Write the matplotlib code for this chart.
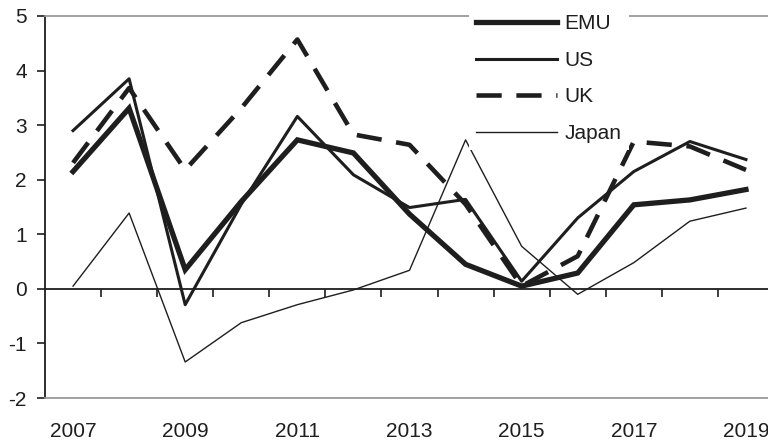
import matplotlib
matplotlib.use('Agg')
import matplotlib.pyplot as plt
import numpy as np

plt.rcParams['font.family'] = ['Liberation Sans', 'DejaVu Sans']

years = list(range(2007, 2020))
emu = [2.15, 3.31, 0.35, 1.6, 2.73, 2.49, 1.37, 0.45, 0.05, 0.29, 1.54, 1.63, 1.82]
us = [2.9, 3.85, -0.29, 1.55, 3.16, 2.09, 1.49, 1.64, 0.14, 1.3, 2.15, 2.7, 2.37]
uk = [2.31, 3.68, 2.18, 3.31, 4.57, 2.83, 2.64, 1.55, 0.05, 0.6, 2.7, 2.61, 2.18]
japan = [0.05, 1.39, -1.34, -0.62, -0.29, -0.02, 0.34, 2.73, 0.78, -0.1, 0.48, 1.24, 1.48]
year_labels = [str(y) for y in years[::2]]

ink = '#1e1e1e'
grey = '#9a9a9a'

fig = plt.figure(figsize=(7.68, 4.43), dpi=100)
ax = fig.add_axes([45 / 768, 45 / 443, 729 / 768, 382 / 443])

x = np.arange(len(years))
ax.plot(x, emu, color=ink, lw=3.8, label='EMU', solid_joinstyle='miter')
ax.plot(x, us, color=ink, lw=2.2, label='US')
ax.plot(x, uk, color=ink, lw=3.3, ls=(0, (5.5, 3.2)), label='UK')
ax.plot(x, japan, color=ink, lw=1.0, label='Japan')

ax.set_xlim(-0.5, len(years) - 0.5)
ax.set_ylim(-2, 5)
ax.set_yticks(range(-2, 6))
ax.set_yticklabels([str(v) for v in range(-2, 6)])

# labels sit below the -2 line, ticks live on the zero line
ax.set_xticks(x[::2])
ax.set_xticklabels(year_labels)
ax.tick_params(axis='x', length=0, pad=17, labelsize=15, colors=ink)
ax.tick_params(axis='y', length=6, width=1.2, pad=7, labelsize=15, colors=ink, direction='out')

for s in ['top', 'bottom']:
    ax.spines[s].set_color(grey)
    ax.spines[s].set_linewidth(1.3)
ax.spines['right'].set_visible(False)
ax.spines['left'].set_color(ink)
ax.spines['left'].set_linewidth(1.3)

sec = ax.secondary_xaxis(2 / 7)
sec.set_xticks(x[:-1] + 0.5)
sec.set_xticklabels([])
sec.tick_params(axis='x', length=6, width=1.2, direction='out', colors=ink)
sec.spines['bottom'].set_color(ink)
sec.spines['bottom'].set_linewidth(1.3)

leg = ax.legend(loc='upper left', bbox_to_anchor=(469 / 768, 1 - 7 / 443),
                bbox_transform=fig.transFigure, frameon=True, fontsize=15,
                handlelength=3.85, handletextpad=0.38, labelspacing=0.84,
                borderpad=0.35, borderaxespad=0, fancybox=False)
leg.get_frame().set_facecolor('white')
leg.get_frame().set_edgecolor('none')
leg.get_frame().set_alpha(1)
for t in leg.get_texts():
    t.set_color(ink)

fig.savefig('out.png', dpi=100)
